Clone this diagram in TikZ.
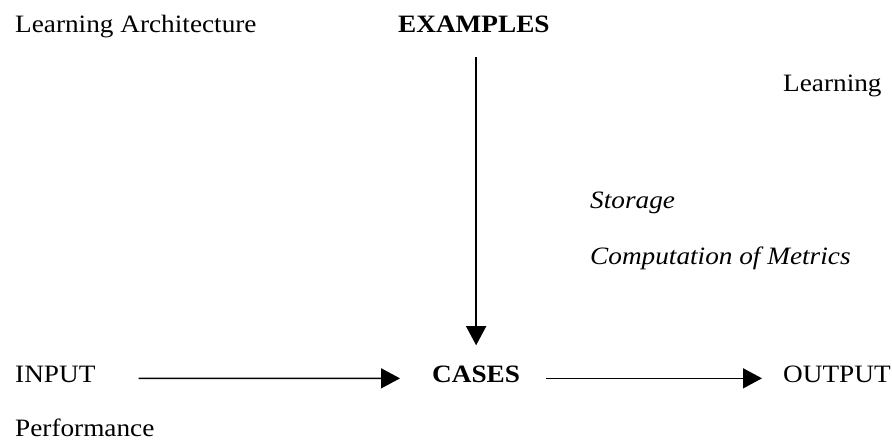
\documentclass[tikz,border=0pt]{standalone}
\usepackage{fontspec}
\setmainfont{Liberation Serif}[FakeStretch=1.09]
\usetikzlibrary{arrows.meta}
\begin{document}
\begin{tikzpicture}[x=1pt,y=1pt,
  lbl/.style={anchor=base west,inner sep=0pt,font=\fontsize{25}{28}\selectfont},
  flow/.style={line width=1.4pt,-{Triangle[length=19pt,width=20pt]}}]
  \useasboundingbox (0,0) rectangle (892,443);
  % labels
  \node[lbl] (arch) at (15,410) {Learning Architecture};
  \node[lbl,font=\fontsize{25}{28}\selectfont\bfseries] (examples) at (398,410) {EXAMPLES};
  \node[lbl] (learning) at (783,351) {Learning};
  \node[lbl,font=\fontsize{25}{28}\selectfont\itshape] (storage) at (590,234) {Storage};
  \node[lbl,font=\fontsize{25}{28}\selectfont\itshape] (metrics) at (590,178) {Computation of Metrics};
  \node[lbl] (input) at (15,60) {INPUT};
  \node[lbl,font=\fontsize{25}{28}\selectfont\bfseries] (cases) at (432,60) {CASES};
  \node[lbl] (output) at (783,60) {OUTPUT};
  \node[lbl] (perf) at (15,6) {Performance};
  % connectors
  \draw[flow,shorten <=24pt,shorten >=21pt] (examples.south -| cases.north) -- (cases.north);
  \draw[flow,shorten <=43pt,shorten >=32pt] ([yshift=-3.5pt]input.east) -- ([yshift=-3.5pt]cases.west);
  \draw[flow,shorten <=26pt,shorten >=21pt] ([yshift=-3.5pt]cases.east) -- ([yshift=-3.5pt]output.west);
\end{tikzpicture}
\end{document}
